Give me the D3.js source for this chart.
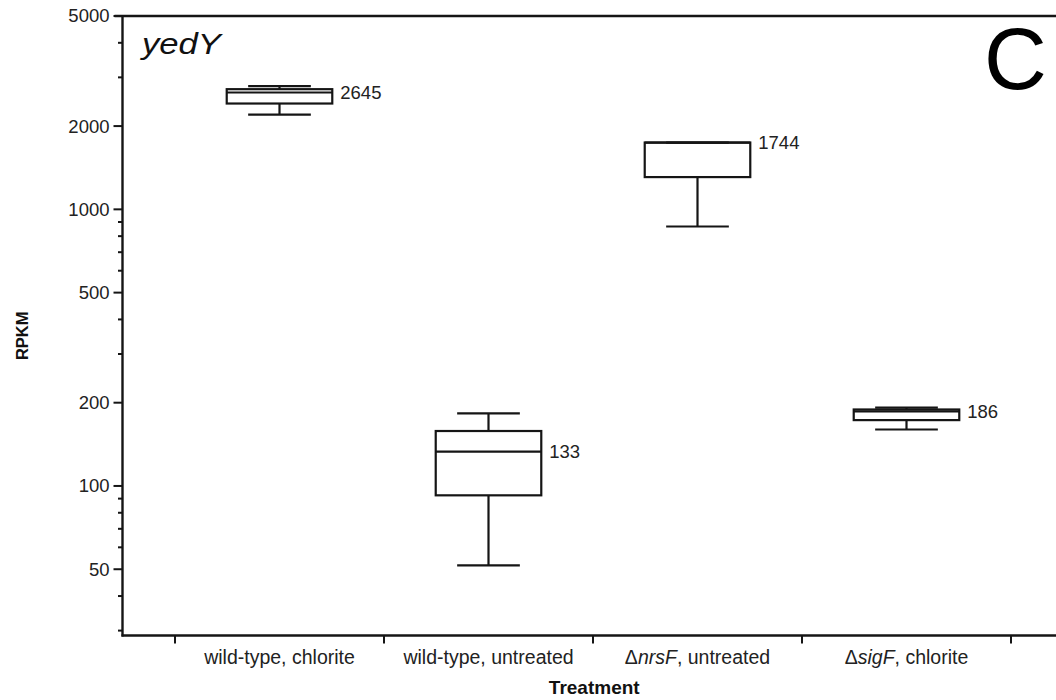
<!DOCTYPE html>
<html>
<head>
<meta charset="utf-8">
<script src="https://cdn.jsdelivr.net/npm/d3@7"></script>
<style>
  html, body { margin: 0; padding: 0; background: #fff; }
  svg { display: block; font-family: "Liberation Sans", Arial, Helvetica, sans-serif; }
</style>
</head>
<body>
<svg id="chart" width="1056" height="700"></svg>
<script>
// yedY expression (RPKM) per treatment, summarised as box plots
const categories = ["wild-type, chlorite", "wild-type, untreated", "ΔnrsF, untreated", "ΔsigF, chlorite"];
const italicPart = [null, null, "nrsF", "sigF"];
const lowWhisker  = [2201, 51.6, 867, 160];
const q1          = [2413, 92.5, 1308, 173];
const median      = [2645, 133, 1744, 186];
const q3          = [2719, 158, 1744, 189];
const highWhisker = [2789, 183, 1744, 192];
const yMajorTicks = [50, 100, 200, 500, 1000, 2000, 5000];
const yDomain = [28.8, 5000];

const svg = d3.select("#chart");
const W = 1056;
const axisX = 122.5, topY = 16, bottomY = 635.5;
const ink = "#151515";

const y = d3.scaleLog().domain(yDomain).range([bottomY, topY]);
const x = d3.scaleBand().domain(categories).range([175, 1011]).padding(0);
const bw = x.bandwidth();
const boxW = bw * 0.505, capW = bw * 0.30;

// minor ticks: 2..9 times each decade inside the domain
const minorTicks = [];
for (let dec = 10; dec <= 1000; dec *= 10) {
  for (let k = 2; k <= 9; k++) {
    const v = k * dec;
    if (v >= yDomain[0] && v <= yDomain[1] && !yMajorTicks.includes(v)) minorTicks.push(v);
  }
}

// frame: top line, left axis, bottom axis
svg.append("line").attr("x1", axisX - 8).attr("x2", W).attr("y1", topY).attr("y2", topY)
  .attr("stroke", ink).attr("stroke-width", 2.4);
svg.append("line").attr("x1", axisX).attr("x2", axisX).attr("y1", topY).attr("y2", bottomY + 1)
  .attr("stroke", ink).attr("stroke-width", 2.4);
svg.append("line").attr("x1", axisX - 1).attr("x2", W).attr("y1", bottomY).attr("y2", bottomY)
  .attr("stroke", ink).attr("stroke-width", 2.4);

// y ticks
svg.append("g").selectAll("line").data(yMajorTicks).join("line")
  .attr("x1", axisX - 9).attr("x2", axisX).attr("y1", d => y(d)).attr("y2", d => y(d))
  .attr("stroke", ink).attr("stroke-width", 2);
svg.append("g").selectAll("line").data(minorTicks).join("line")
  .attr("x1", axisX - 4.5).attr("x2", axisX).attr("y1", d => y(d)).attr("y2", d => y(d))
  .attr("stroke", ink).attr("stroke-width", 2);
svg.append("g").selectAll("text").data(yMajorTicks).join("text")
  .attr("x", axisX - 13).attr("y", d => y(d)).attr("dy", "0.35em")
  .attr("text-anchor", "end").attr("font-size", 18.5).attr("fill", "#222")
  .text(d => d);

// x ticks at category boundaries
const xBounds = categories.map(c => x(c)).concat([x(categories[categories.length - 1]) + bw]);
svg.append("g").selectAll("line").data(xBounds).join("line")
  .attr("x1", d => d).attr("x2", d => d).attr("y1", bottomY).attr("y2", bottomY + 8)
  .attr("stroke", ink).attr("stroke-width", 2);

// category labels
const catG = svg.append("g").selectAll("text").data(categories).join("text")
  .attr("x", d => x(d) + bw / 2).attr("y", 664)
  .attr("text-anchor", "middle").attr("font-size", 19.5).attr("fill", "#222");
catG.each(function (d, i) {
  const t = d3.select(this);
  if (italicPart[i]) {
    const idx = d.indexOf(italicPart[i]);
    t.append("tspan").text(d.slice(0, idx));
    t.append("tspan").attr("font-style", "italic").text(italicPart[i]);
    t.append("tspan").text(d.slice(idx + italicPart[i].length));
  } else {
    t.text(d);
  }
});

// axis titles
svg.append("text").attr("x", (axisX + W) / 2 + 5).attr("y", 694)
  .attr("text-anchor", "middle").attr("font-size", 19).attr("font-weight", "bold").attr("fill", "#111")
  .text("Treatment");
svg.append("text").attr("transform", `translate(28,${(topY + bottomY) / 2 + 10}) rotate(-90)`)
  .attr("text-anchor", "middle").attr("font-size", 16.5).attr("font-weight", "bold").attr("fill", "#111")
  .text("RPKM");

// box plots
const boxes = svg.append("g").selectAll("g").data(categories).join("g")
  .attr("transform", d => `translate(${x(d) + bw / 2},0)`);
const st = sel => sel.attr("stroke", ink).attr("stroke-width", 2.2).attr("fill", "none");

boxes.append("line").call(st)
  .attr("x1", 0).attr("x2", 0).attr("y1", (d, i) => y(q1[i])).attr("y2", (d, i) => y(lowWhisker[i]));
boxes.append("line").call(st)
  .attr("x1", 0).attr("x2", 0).attr("y1", (d, i) => y(q3[i])).attr("y2", (d, i) => y(highWhisker[i]));
boxes.append("line").call(st)
  .attr("x1", -capW / 2).attr("x2", capW / 2).attr("y1", (d, i) => y(lowWhisker[i])).attr("y2", (d, i) => y(lowWhisker[i]));
boxes.append("line").call(st)
  .attr("x1", -capW / 2).attr("x2", capW / 2).attr("y1", (d, i) => y(highWhisker[i])).attr("y2", (d, i) => y(highWhisker[i]));
boxes.append("rect").call(st)
  .attr("x", -boxW / 2).attr("width", boxW)
  .attr("y", (d, i) => y(q3[i])).attr("height", (d, i) => y(q1[i]) - y(q3[i]));
boxes.append("line").call(st)
  .attr("x1", -boxW / 2).attr("x2", boxW / 2).attr("y1", (d, i) => y(median[i])).attr("y2", (d, i) => y(median[i]));

// median value labels
boxes.append("text")
  .attr("x", boxW / 2 + 8).attr("y", (d, i) => y(median[i])).attr("dy", "0.35em")
  .attr("font-size", 18.5).attr("fill", "#222")
  .text((d, i) => median[i]);

// gene name and panel letter
svg.append("text").attr("x", 142).attr("y", 54).attr("font-size", 30).attr("font-style", "italic").attr("fill", "#111")
  .attr("textLength", 79).attr("lengthAdjust", "spacingAndGlyphs")
  .text("yedY");
svg.append("text").attr("x", 984).attr("y", 89).attr("font-size", 87).attr("fill", "#000")
  .text("C");
</script>
</body>
</html>
